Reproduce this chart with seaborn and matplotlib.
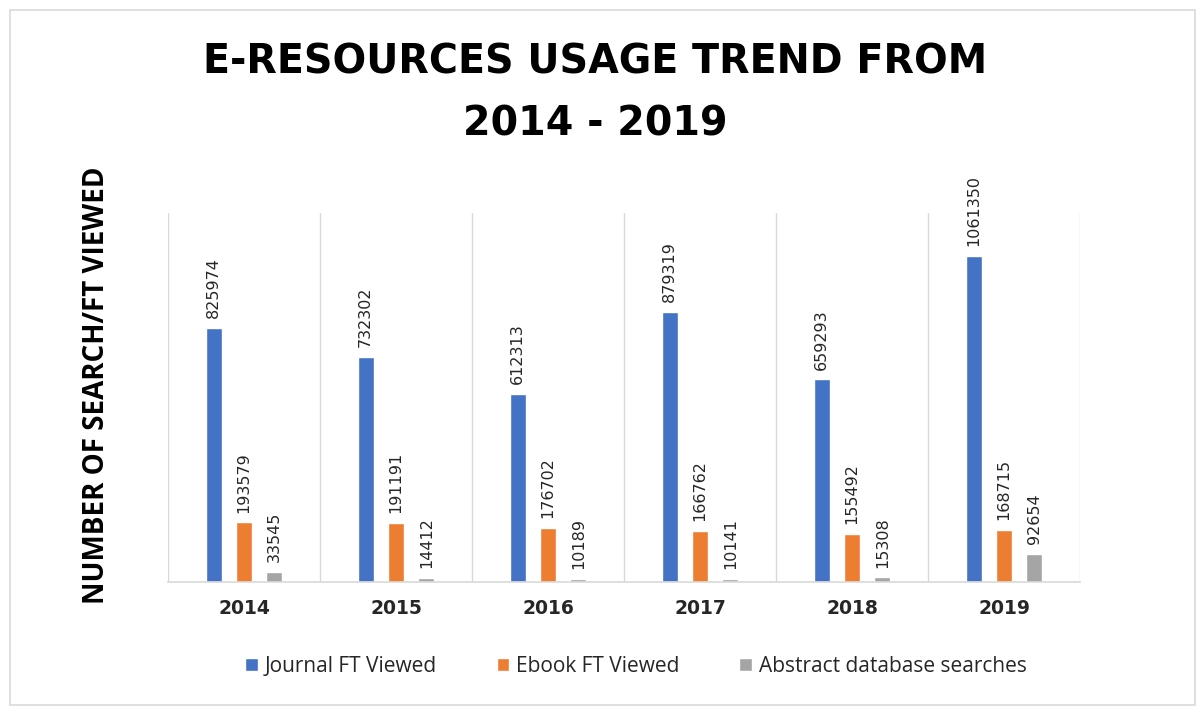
import matplotlib
matplotlib.use("Agg")
import matplotlib.pyplot as plt
import seaborn as sns
import pandas as pd
from matplotlib.patches import Rectangle

years = ["2014", "2015", "2016", "2017", "2018", "2019"]
journal_ft = [825974, 732302, 612313, 879319, 659293, 1061350]
ebook_ft = [193579, 191191, 176702, 166762, 155492, 168715]
abstract_db = [33545, 14412, 10189, 10141, 15308, 92654]
series_names = ["Journal FT Viewed", "Ebook FT Viewed", "Abstract database searches"]
colors = ["#4472C4", "#ED7D31", "#A5A5A5"]

rows = []
for name, vals in zip(series_names, [journal_ft, ebook_ft, abstract_db]):
    for y, v in zip(years, vals):
        rows.append({"Year": y, "Series": name, "Value": v})
df = pd.DataFrame(rows)

sns.set_theme(style="white")
plt.rcParams['font.family'] = ['Open Sans', 'DejaVu Sans']

fig = plt.figure(figsize=(12.03, 7.13), dpi=100)
ax = fig.add_axes([168/1203, 1-582/713, (1080-168)/1203, (582-213)/713])

sns.barplot(data=df, x="Year", y="Value", hue="Series", order=years,
            hue_order=series_names, palette=colors, width=0.6, gap=0.47,
            ax=ax, legend=True, saturation=1)

for cont in ax.containers:
    ax.bar_label(cont, labels=[f"{int(v)}" for v in cont.datavalues],
                 rotation=90, padding=7, fontsize=11.5, color="#262626",
                 family="DejaVu Sans")

ax.set_ylim(0, 1.2e6)
ax.set_xlim(-0.5, 5.5)
ax.set_yticks([])
for xv in [-0.5, 0.5, 1.5, 2.5, 3.5, 4.5, 5.5]:
    ax.axvline(xv, color="#d9d9d9", lw=1, zorder=0)
for s in ["top", "right", "left"]:
    ax.spines[s].set_visible(False)
ax.spines["bottom"].set_color("#d9d9d9")
ax.spines["bottom"].set_linewidth(1.2)
ax.tick_params(axis="x", length=0, pad=12)
for lbl in ax.get_xticklabels():
    lbl.set_fontweight("bold")
    lbl.set_fontsize(13.5)
    lbl.set_family("DejaVu Sans")
    lbl.set_color("#262626")
ax.set_xlabel("")
ax.set_ylabel("")

fig.text(97/1203, 1-385/713, "NUMBER OF SEARCH/FT VIEWED", rotation=90,
         ha="center", va="center", fontsize=20, fontweight="bold", color="#000000")
fig.text(595/1203, 1-62/713, "E-RESOURCES USAGE TREND FROM", ha="center", va="center",
         fontsize=28.5, fontweight="bold", color="#000000", family="DejaVu Sans")
fig.text(595/1203, 1-124/713, "2014 - 2019", ha="center", va="center",
         fontsize=28.5, fontweight="bold", color="#000000", family="DejaVu Sans")

handles, labels = ax.get_legend_handles_labels()
ax.get_legend().remove()
fig.legend(handles, labels, loc="center", bbox_to_anchor=(636/1203, 1-666/713),
           ncol=3, frameon=False, fontsize=15, handlelength=0.6, handleheight=0.6,
           columnspacing=2.85, handletextpad=0.35, labelcolor="#262626")

fig.patches.append(Rectangle((10/1203, 1-705/713), (1195-10)/1203, (705-10)/713,
                             transform=fig.transFigure, fill=False,
                             edgecolor="#d9d9d9", lw=1.2))

fig.savefig("out.png", dpi=100)
